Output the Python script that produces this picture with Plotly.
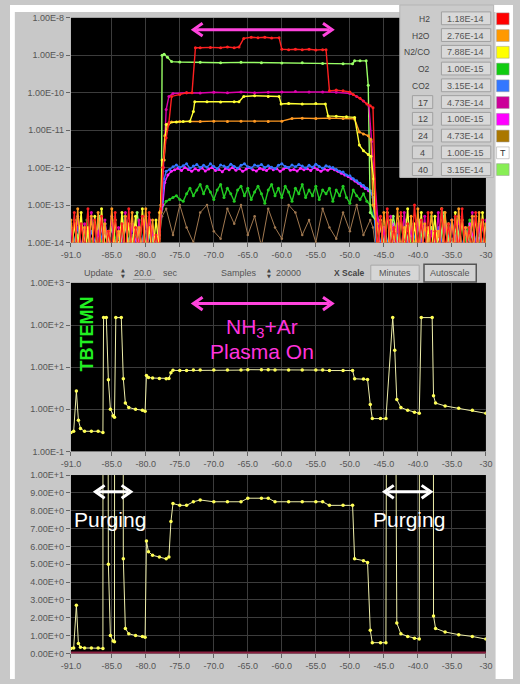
import numpy as np
import plotly.graph_objects as go

W, H = 520, 684
FONT = "Liberation Sans, Arial, sans-serif"


def px(x):
    return x / W


def py(y):
    return 1 - y / H


# ---------------- top panel: partial pressures (log10 values) ----------------
x_ticks = [-91, -85, -80, -75, -70, -65, -60, -55, -50, -45, -40, -35, -30]
x_ticktext = ["-91.0", "-85.0", "-80.0", "-75.0", "-70.0", "-65.0", "-60.0",
              "-55.0", "-50.0", "-45.0", "-40.0", "-35.0", "-30"]
top_tickvals = [1e-14, 1e-13, 1e-12, 1e-11, 1e-10, 1e-9, 1e-8]
top_ticktext = ["1.00E-14", "1.00E-13", "1.00E-12", "1.00E-11", "1.00E-10", "1.00E-9", "1.00E-8"]

# H2 (red)
H2_pre = [-14.3, -13.2, -14.4, -13.5, -14.2, -13.1, -14.5, -13.4, -14.3, -13.3, -14.4, -13.7, -14.2, -13.2,
          -14.5, -13.5, -14.3, -13.1, -14.4, -13.6, -14.2, -13.3, -14.5, -13.2, -14.3, -13.8, -14.2]
H2_post = [-14.3, -13.3, -14.5, -13.1, -14.2, -13.6, -14.4, -13.2, -14.3, -13.5, -14.5, -13.0, -14.2, -13.4,
           -14.4, -13.2, -14.3, -13.7, -14.5, -13.1, -14.2, -13.5, -14.4, -13.3, -14.3, -13.1, -14.5, -13.6,
           -14.2, -13.2, -14.4, -13.4, -14.3]
H2_px = [-77.8, -77.5, -77.0, -76.6, -76.2, -75.0, -74.0, -73.2, -72.7, -72.0, -70.5, -69.0, -68.0, -67.0,
         -66.3, -65.6, -64.5, -63.5, -62.5, -61.5, -60.4, -60.0, -59.0, -58.0, -57.0, -56.0, -55.0, -54.0,
         -53.5, -53.0, -52.0, -51.0, -50.0, -49.5, -48.5, -47.5, -47.0, -46.6]
H2_py = [-13.1, -12.0, -11.2, -10.8, -10.1, -10.05, -10.0, -10.0, -8.8, -8.8, -8.79, -8.8, -8.78, -8.8,
         -8.78, -8.55, -8.52, -8.53, -8.52, -8.54, -8.53, -8.84, -8.85, -8.84, -8.85, -8.84, -8.86, -8.85,
         -8.85, -9.95, -9.93, -9.95, -9.98, -10.05, -10.15, -10.3, -10.35, -10.4]

# H2O (orange)
H2O_pre = [-13.4, -14.3, -13.1, -14.4, -13.6, -14.2, -13.3, -14.5, -13.2, -14.3, -13.5, -14.4, -13.1, -14.2,
           -13.7, -14.5, -13.3, -14.3, -13.2, -14.4, -13.6, -14.2, -13.1, -14.5, -13.4, -14.3, -13.2]
H2O_post = [-13.5, -14.4, -13.2, -14.3, -13.4, -14.5, -13.1, -14.2, -13.6, -14.4, -13.3, -14.3, -13.1, -14.5,
            -13.5, -14.2, -13.2, -14.4, -13.7, -14.3, -13.2, -14.5, -13.4, -14.2, -13.1, -14.4, -13.6, -14.3,
            -13.3, -14.5, -13.2, -14.2, -13.5]
H2O_px = [-77.8, -77.5, -77.2, -76.7, -76.2, -75.0, -73.5, -72.0, -70.0, -68.0, -66.0, -64.0, -62.0, -60.0,
          -58.5, -57.0, -55.0, -53.0, -51.0, -49.3, -48.6, -48.0, -47.3, -46.9, -46.6]
H2O_py = [-13.0, -12.0, -11.15, -10.85, -10.78, -10.77, -10.76, -10.77, -10.76, -10.77, -10.76, -10.76, -10.77,
          -10.76, -10.69, -10.68, -10.69, -10.68, -10.69, -10.7, -11.05, -11.1, -11.15, -11.25, -13.0]

# N2/CO (yellow)
N2_pre = [-14.4, -13.5, -14.2, -13.2, -14.5, -13.6, -14.3, -13.3, -14.4, -13.1, -14.2, -13.7, -14.5, -13.4,
          -14.3, -13.2, -14.4, -13.5, -14.2, -13.3, -14.5, -13.1, -14.3, -13.6, -14.4, -13.4, -14.2]
N2_post = [-14.2, -13.4, -14.4, -13.2, -14.3, -13.7, -14.5, -13.3, -14.2, -13.1, -14.4, -13.5, -14.3, -13.2,
           -14.5, -13.6, -14.2, -13.3, -14.4, -13.1, -14.3, -13.5, -14.5, -13.2, -14.2, -13.4, -14.4, -13.6,
           -14.3, -13.3, -14.5, -13.2, -14.2]
N2_px = [-77.8, -77.6, -77.3, -77.0, -76.5, -75.5, -74.5, -73.5, -73.0, -72.8, -71.0, -69.0, -67.0, -66.3,
         -65.6, -64.0, -62.0, -60.4, -60.1, -59.0, -57.0, -55.0, -53.6, -53.2, -52.0, -50.5, -49.3, -48.6,
         -48.0, -47.3, -46.9, -46.5]
N2_py = [-13.2, -11.8, -11.8, -10.85, -10.8, -10.78, -10.77, -10.76, -10.5, -10.24, -10.24, -10.25, -10.24,
         -10.24, -10.1, -10.08, -10.1, -10.1, -10.3, -10.29, -10.3, -10.29, -10.3, -10.62, -10.63, -10.64,
         -10.66, -11.4, -11.55, -11.65, -11.7, -12.3]

# O2 (green)
O2_pre = [-13.6, -14.4, -13.4, -14.3, -13.7, -14.5, -13.5, -14.2, -13.3, -14.4, -13.6, -14.3, -13.4, -14.5]
O2_post = [-13.5, -14.3, -13.7, -14.4, -13.4, -14.2, -13.6, -14.5, -13.3, -14.3, -13.5, -14.4, -13.7, -14.2,
           -13.4, -14.5, -13.6]
O2_mid = [-12.9, -12.85, -12.8, -12.75, -12.85, -12.9, -12.7, -12.55, -12.75, -12.6,
          -12.45, -12.7, -12.5, -12.65, -12.85, -12.6, -12.45, -12.8, -12.55, -12.7,
          -12.9, -12.6, -12.5, -12.75, -12.55, -12.85, -12.65, -12.5, -12.7, -12.95,
          -12.6, -12.45, -12.75, -12.55, -12.8, -12.5, -12.65, -12.9, -12.55, -12.7,
          -12.45, -12.8, -12.6, -12.75, -12.5, -12.85, -12.6, -12.7, -12.55, -12.9,
          -12.6, -12.75, -12.5, -12.8, -12.95, -12.6, -12.75, -12.85, -12.7, -12.9, -13.0]

# CO2 (blue)
CO2_pre = [-14.3, -13.6, -14.5, -13.7, -14.2, -13.5, -14.4, -13.8, -14.3, -13.6, -14.5, -13.4, -14.2, -13.7]
CO2_post = [-14.4, -13.6, -14.3, -13.8, -14.5, -13.5, -14.2, -13.7, -14.4, -13.6, -14.3, -13.4, -14.5, -13.7,
            -14.2, -13.6, -14.4]
CO2_mid = [-12.1, -12.05, -11.98, -11.93, -12.0, -11.95, -11.9, -12.02, -11.96, -11.92,
           -12.0, -11.94, -11.99, -11.9, -11.97, -12.03, -11.93, -11.96, -12.0, -11.91,
           -11.97, -12.02, -11.94, -11.9, -11.98, -12.01, -11.93, -11.96, -11.92, -12.0,
           -11.95, -11.99, -12.03, -11.94, -11.9, -11.97, -12.0, -11.93, -11.98, -11.92,
           -11.96, -12.01, -11.94, -11.99, -11.91, -11.97, -12.02, -11.95, -11.98, -12.0,
           -12.05, -12.1, -12.12, -12.2, -12.22, -12.3, -12.35, -12.42, -12.48, -12.55, -12.62]

# mass 17 (dark magenta)
M17_pre = [-13.6, -14.4, -13.3, -14.2, -13.5, -14.5, -13.2, -14.3, -13.7, -14.4, -13.4, -14.2, -13.3, -14.5,
           -13.6, -14.3, -13.2, -14.4, -13.5, -14.2, -13.4, -14.5, -13.3, -14.3, -13.6, -14.4, -13.5]
M17_post = [-13.4, -14.3, -13.6, -14.5, -13.3, -14.2, -13.5, -14.4, -13.2, -14.3, -13.6, -14.5, -13.4, -14.2,
            -13.3, -14.4, -13.7, -14.3, -13.2, -14.5, -13.5, -14.2, -13.4, -14.4, -13.3, -14.3, -13.6, -14.5,
            -13.2, -14.2, -13.5, -14.4, -13.4]
M17_px = [-77.7, -77.4, -77.0, -76.6, -76.0, -74.0, -72.0, -70.0, -68.0, -66.0, -64.0, -62.0, -60.0, -58.0,
          -56.0, -54.0, -52.0, -50.0, -49.0, -48.0, -47.2, -46.8]
M17_py = [-13.0, -12.0, -10.45, -10.1, -10.02, -10.0, -10.01, -9.99, -10.0, -9.98, -10.0, -9.99, -9.98, -9.97,
          -9.98, -9.98, -9.99, -10.02, -10.1, -10.22, -10.35, -11.3]

# mass 12 (magenta)
M12_pre = [-13.5, -14.3, -13.7, -14.5, -13.4, -14.2, -13.6, -14.4, -13.5, -14.3, -13.8, -14.5, -13.4, -14.2]
M12_post = [-13.6, -14.4, -13.5, -14.3, -13.7, -14.5, -13.4, -14.2, -13.6, -14.4, -13.3, -14.3, -13.7, -14.5,
            -13.5, -14.2, -13.6]
M12_mid = [-12.2, -12.1, -12.06, -12.02, -12.08, -12.0, -12.05, -12.1, -12.03, -12.07,
           -12.01, -12.09, -12.04, -12.0, -12.08, -12.05, -12.11, -12.02, -12.06, -12.0,
           -12.07, -12.03, -12.1, -12.04, -12.0, -12.06, -12.09, -12.02, -12.05, -12.08,
           -12.01, -12.06, -12.03, -12.1, -12.04, -12.0, -12.07, -12.05, -12.09, -12.02,
           -12.06, -12.03, -12.08, -12.0, -12.05, -12.1, -12.04, -12.07, -12.02, -12.06,
           -12.1, -12.15, -12.2, -12.24, -12.3, -12.36, -12.42, -12.5, -12.56, -12.62, -12.7]

# mass 24 (brown)
M24_pre = [-14.4, -13.8, -14.5, -13.9, -14.3, -13.7, -14.5, -13.9, -14.4, -13.8, -14.5, -13.7, -14.3, -13.9]
M24_post = [-14.5, -13.8, -14.3, -13.7, -14.4, -13.9, -14.5, -13.8, -14.3, -13.7, -14.5, -13.9, -14.4, -13.8,
            -14.3, -13.7, -14.5]
M24_mid = [-13.1, -13.8, -13.0, -13.6, -14.0, -13.2, -13.0, -13.7, -13.9, -13.1, -13.5, -13.0, -13.8, -13.3,
           -14.1, -13.1, -13.6, -13.9, -13.0, -13.2, -13.8, -13.4, -14.0, -13.1, -13.6, -13.9, -13.2, -13.7,
           -13.0, -13.8, -13.4]

# mass 4 (white)
M4_pre = [-14.5, -13.9, -14.4, -14.1, -14.5, -13.8, -14.3, -14.0, -14.5, -13.9, -14.4, -14.1, -14.5, -13.8]
M4_post = [-14.4, -13.9, -14.5, -14.0, -14.3, -13.8, -14.5, -14.1, -14.4, -13.9, -14.5, -14.0, -14.3, -13.9,
           -14.5, -14.1, -14.4]

# mass 40 (light green)
M40_pre = [-13.4, -14.3, -13.7, -14.5, -13.3, -14.2, -13.6, -14.4, -13.5, -14.3, -13.2, -14.5, -13.6, -14.4]
M40_post = [-13.6, -14.4, -13.3, -14.2, -13.7, -14.5, -13.4, -14.3, -13.6, -14.4, -13.2, -14.3, -13.5, -14.5,
            -13.7, -14.2, -13.4]
M40_px = [-77.7, -77.6, -77.3, -76.8, -76.2, -75.0, -72.0, -69.0, -66.0, -63.0, -60.0, -57.0, -54.0, -51.0,
          -49.6, -49.3, -48.5, -47.6, -47.3, -47.0]
M40_py = [-13.0, -9.0, -8.97, -9.05, -9.17, -9.18, -9.19, -9.2, -9.19, -9.2, -9.21, -9.2, -9.22, -9.23,
          -9.23, -9.15, -9.15, -9.15, -9.8, -13.2]

# legend panel
legend_names = ["H2", "H2O", "N2/CO", "O2", "CO2", "17", "12", "24", "4", "40"]
legend_values = ["1.18E-14", "2.76E-14", "7.88E-14", "1.00E-15", "3.15E-14",
                 "4.73E-14", "1.00E-15", "4.73E-14", "1.00E-15", "3.15E-14"]
legend_colors = ["#ff0000", "#ff9900", "#ffff00", "#11cc11", "#3377ff",
                 "#cc0099", "#ff00ff", "#aa7700", "#ffffff", "#88ee55"]

# ---------------- TBTEMN (middle: log, bottom: linear) ----------------
T_x = [-91.0, -90.6, -90.2, -89.9, -89.6, -89.0, -88.0, -87.0, -86.3, -86.2, -85.8, -85.5, -85.2, -84.8,
       -84.6, -84.4, -83.6, -83.3, -83.0, -82.5, -81.5, -80.5, -80.1, -79.9, -79.6, -79.0, -78.0, -77.0,
       -76.6, -76.3, -76.0, -75.0, -74.0, -73.0, -72.0, -70.0, -68.0, -66.0, -65.0, -63.0, -62.0, -61.0,
       -59.0, -57.0, -55.0, -54.0, -53.0, -51.0, -49.6, -49.3, -48.0, -47.4, -47.0, -46.7, -45.5, -44.7,
       -43.7, -43.4, -43.1, -42.5, -41.5, -40.5, -39.8, -39.5, -37.9, -37.7, -37.4, -36.0, -34.0, -32.0, -30.0]
T_y = [0.28, 0.3, 2.7, 0.55, 0.35, 0.3, 0.3, 0.3, 0.28, 150, 150, 5.0, 1.0, 0.7,
       0.65, 150, 150, 5.3, 1.4, 1.1, 1.0, 0.95, 0.9, 6.3, 5.7, 5.5, 5.4, 5.3,
       5.4, 7.4, 8.4, 8.3, 8.3, 8.5, 8.6, 8.5, 8.5, 8.5, 8.7, 8.7, 8.7, 8.5,
       8.5, 8.5, 8.5, 8.5, 8.3, 8.3, 8.3, 5.3, 5.2, 5.1, 1.3, 0.6, 0.6, 0.6,
       150, 25, 1.7, 1.1, 0.95, 0.85, 0.8, 150, 150, 2.1, 1.4, 1.2, 1.05, 0.95, 0.8]
mid_tickvals = [0.1, 1, 10, 100, 1000]
mid_ticktext = ["1.00E-1", "1.00E+0", "1.00E+1", "1.00E+2", "1.00E+3"]
bot_tickvals = list(range(0, 11))
bot_ticktext = ["0.00E+0", "1.00E+0", "2.00E+0", "3.00E+0", "4.00E+0", "5.00E+0",
                "6.00E+0", "7.00E+0", "8.00E+0", "9.00E+0", "1.00E+1"]

# annotation arrow spans (minutes)
plasma_span = (-73.0, -52.6)
purge_spans = [(-87.4, -82.2), (-44.9, -38.1)]


def seg(vals, a, b):
    return list(np.linspace(a, b, len(vals)))


def build(pre, mx, my, post, pre_rng=(-91.0, -78.0), post_rng=(-46.0, -30.0)):
    xs = seg(pre, *pre_rng) + list(mx) + seg(post, *post_rng)
    ys = list(pre) + list(my) + list(post)
    return xs, [10 ** v for v in ys]


fig = go.Figure()


def add_top(name, color, xs, ys, lw=1.4, ms=3):
    fig.add_trace(go.Scatter(x=xs, y=ys, mode="lines+markers", name=name,
                             line=dict(color=color, width=lw),
                             marker=dict(color=color, size=ms),
                             xaxis="x", yaxis="y", showlegend=False, connectgaps=False,
                             hoverinfo="skip"))


# white (4): background only
xs4 = seg(M4_pre, -91.0, -78.0) + [None] + seg(M4_post, -46.0, -30.0)
ys4 = [10 ** v for v in M4_pre] + [None] + [10 ** v for v in M4_post]
add_top("4", "#dddddd", xs4, ys4, lw=1)

# brown 24
mx = [-77.6] + seg(M24_mid, -77.0, -47.0) + [-46.6]
my = [-13.3] + M24_mid + [-13.6]
add_top("24", "#a07850", *build(M24_pre, mx, my, M24_post), lw=1, ms=2.5)

# green O2
mx = [-77.6] + seg(O2_mid, -77.0, -47.0) + [-46.6]
my = [-13.1] + O2_mid + [-13.3]
add_top("O2", "#22cc22", *build(O2_pre, mx, my, O2_post, (-90.5, -78.5), (-45.5, -30.5)))

# magenta 12
mx = [-77.5, -77.2] + seg(M12_mid, -76.75, -46.75) + [-46.4]
my = [-13.0, -12.4] + M12_mid + [-13.0]
add_top("12", "#ff22ff", *build(M12_pre, mx, my, M12_post, (-90.5, -78.5), (-45.5, -30.5)))

# blue CO2
mx = [-77.6, -77.3] + seg(CO2_mid, -77.0, -47.0) + [-46.6]
my = [-12.9, -12.3] + CO2_mid + [-12.8]
add_top("CO2", "#3377ff", *build(CO2_pre, mx, my, CO2_post))

# light green 40
add_top("40", "#99ff66", *build(M40_pre, M40_px, M40_py, M40_post, (-90.5, -78.5), (-45.5, -30.5)))

# dark magenta 17
add_top("17", "#dd00aa", *build(M17_pre, M17_px, M17_py, M17_post))

# orange H2O
add_top("H2O", "#ff9922", *build(H2O_pre, H2O_px, H2O_py, H2O_post))

# yellow N2/CO
add_top("N2/CO", "#ffff33", *build(N2_pre, N2_px, N2_py, N2_post))

# red H2
add_top("H2", "#ff2020", *build(H2_pre, H2_px, H2_py, H2_post))

# TBTEMN traces
for xa, ya in (("x2", "y2"), ("x3", "y3")):
    fig.add_trace(go.Scatter(x=T_x, y=T_y, mode="lines+markers", name="TBTEMN",
                             line=dict(color="#eeeeaa", width=1),
                             marker=dict(color="#ffff55", size=3.5),
                             xaxis=xa, yaxis=ya, showlegend=False, hoverinfo="skip"))

# ---------------- layout ----------------
XD = [px(63), px(492)]
tickfont = dict(family=FONT, size=9, color="#555555")
common_x = dict(domain=XD, range=[-91, -30], tickmode="array", tickvals=x_ticks, ticktext=x_ticktext,
                showgrid=True, gridcolor="#3c3c3c", gridwidth=1, zeroline=False, ticks="outside",
                ticklen=4, tickcolor="#666666", tickfont=tickfont, showline=False, fixedrange=True)
common_y = dict(showgrid=True, gridcolor="#3c3c3c", gridwidth=1, zeroline=False, ticks="outside",
                ticklen=4, tickcolor="#666666", tickfont=tickfont, tickmode="array", showline=False,
                fixedrange=True)

fig.update_layout(
    width=W, height=H, autosize=False,
    margin=dict(l=0, r=0, t=0, b=0),
    paper_bgcolor="#c8c8c8", plot_bgcolor="#000000",
    font=dict(family=FONT),
    hovermode=False,
    xaxis=dict(anchor="y", **common_x),
    yaxis=dict(anchor="x", domain=[py(241), py(13)], type="log", range=[-14, -8],
               tickvals=top_tickvals, ticktext=top_ticktext, **common_y),
    xaxis2=dict(anchor="y2", **common_x),
    yaxis2=dict(anchor="x2", domain=[py(453), py(282)], type="log", range=[-1, 3],
                tickvals=mid_tickvals, ticktext=mid_ticktext, **common_y),
    xaxis3=dict(anchor="y3", **common_x),
    yaxis3=dict(anchor="x3", domain=[py(658), py(477)], range=[0, 10],
                tickvals=bot_tickvals, ticktext=bot_ticktext, **common_y),
)


def rect(x0, y0, x1, y1, fill, line=None, lw=0, layer="below"):
    return dict(type="rect", xref="paper", yref="paper", x0=px(x0), x1=px(x1), y0=py(y1), y1=py(y0),
                fillcolor=fill, line=dict(color=line or fill, width=lw), layer=layer)


def txt(x, y, s, size=9, color="#555555", xanchor="center", angle=0, family=FONT, weight="normal"):
    return dict(xref="paper", yref="paper", x=px(x), y=py(y), text=s, showarrow=False,
                xanchor=xanchor, yanchor="middle", textangle=angle,
                font=dict(family=family, size=size, color=color, weight=weight))


def double_arrow(span, y, color, width=3):
    """Double-headed arrow as shapes: x in minutes (axis x), y in pixels."""
    x0, x1 = span
    hx = 1.35   # head length, minutes
    hy = 6.5 / H  # head half-height, paper
    yc = py(y)
    line = dict(type="line", xref="x", yref="paper", x0=x0 + 0.4, x1=x1 - 0.4, y0=yc, y1=yc,
                line=dict(color=color, width=width), layer="above")
    left = dict(type="path", xref="x", yref="paper",
                path=f"M {x0 + hx},{yc + hy} L {x0},{yc} L {x0 + hx},{yc - hy}",
                line=dict(color=color, width=width), layer="above")
    right = dict(type="path", xref="x", yref="paper",
                 path=f"M {x1 - hx},{yc + hy} L {x1},{yc} L {x1 - hx},{yc - hy}",
                 line=dict(color=color, width=width), layer="above")
    return [line, left, right]


shapes = [
    rect(0, 0, 5, 684, "#ffffff"),
    rect(502, 0, 520, 684, "#ffffff"),
    rect(0, 0, 520, 7, "#ffffff"),
    # control row boxes
    rect(373, 264, 423, 280, "#d6d6d6", "#a8a8a8", 1),
    rect(428, 263, 482, 281, "#d2d2d2", "#555555", 1.5),
    rect(127, 278, 150, 279, "#999999"),
    # maroon baseline in bottom panel
    dict(type="line", xref="paper", yref="paper", x0=px(63), x1=px(492), y0=py(657), y1=py(657),
         line=dict(color="#8a2040", width=2), layer="above"),
]
shapes += double_arrow(plasma_span, 25, "#ff44dd")
shapes += double_arrow(plasma_span, 303, "#ff44dd")
shapes += double_arrow(purge_spans[0], 494, "#ffffff")
shapes += double_arrow(purge_spans[1], 494, "#ffffff")
# legend panel
shapes.append(rect(403, 0, 500, 175, "#cbcbcb", "#b5b5b5", 1, "above"))

annotations = []
row_y = [14 + 17 * i for i in range(len(legend_names))]
for i, (nm, val, col) in enumerate(zip(legend_names, legend_values, legend_colors)):
    yc = row_y[i]
    shapes.append(rect(446, yc - 7, 497, yc + 6, "#d9d9d9", "#a0a0a0", 1, "above"))
    shapes.append(rect(503, yc - 6, 516, yc + 6, col, "#999999", 0.5, "above"))
    annotations.append(txt(471, yc, val, 9, "#555555"))
    if i >= 5:
        shapes.append(rect(416, yc - 7, 437, yc + 6, "#d3d3d3", "#a0a0a0", 1, "above"))
        annotations.append(txt(426.5, yc, nm, 9, "#444444"))
    else:
        annotations.append(txt(436, yc, nm, 8.5, "#444444", xanchor="right"))
    if nm == "4":
        annotations.append(txt(509.5, yc, "T", 9, "#333333"))

# control row text
SPIN = "DejaVu Sans, sans-serif"
annotations += [
    txt(92, 272, "Update", 9, "#555555"),
    txt(117, 269, "▲", 5, "#444444", family=SPIN),
    txt(117, 275, "▼", 5, "#444444", family=SPIN),
    txt(138, 272, "20.0", 9, "#555555"),
    txt(166, 272, "sec", 9, "#555555"),
    txt(237, 272, "Samples", 9, "#555555"),
    txt(268, 269, "▲", 5, "#444444", family=SPIN),
    txt(268, 275, "▼", 5, "#444444", family=SPIN),
    txt(288, 272, "20000", 9, "#555555"),
    txt(351, 272, "X Scale", 8.5, "#444444", weight="bold"),
    txt(398, 272, "Minutes", 9, "#555555"),
    txt(455, 272, "Autoscale", 9, "#555555"),
]

# plot annotations
annotations += [
    txt(261, 328, "NH<sub>3</sub>+Ar", 21, "#ff33dd"),
    txt(261, 352, "Plasma On", 21, "#ff33dd"),
    txt(80, 334, "TBTEMN", 18, "#22ee22", angle=-90, weight="bold"),
    txt(103, 522, "Purging", 21, "#ffffff"),
    txt(413, 522, "Purging", 21, "#ffffff"),
]

fig.update_layout(shapes=shapes, annotations=annotations)
fig.write_html("out.html", config={"displayModeBar": False, "staticPlot": True},
               post_script="document.body.style.margin='0';document.body.style.overflow='hidden';")
